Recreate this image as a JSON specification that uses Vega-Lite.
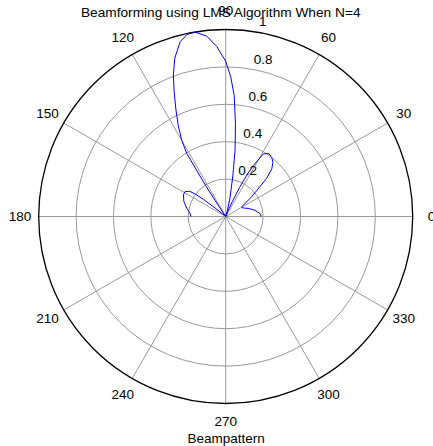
{
  "$schema": "https://vega.github.io/schema/vega-lite/v6.json",
  "width": 374,
  "height": 374,
  "autosize": {"type": "none"},
  "padding": {"left": 38.7, "top": 29.5, "right": 20.3, "bottom": 42.5},
  "background": "white",
  "title": {
    "text": "Beamforming using LMS Algorithm When N=4",
    "font": "Liberation Sans",
    "fontSize": 13.7,
    "fontWeight": "normal",
    "color": "black",
    "anchor": "middle",
    "frame": "group",
    "offset": -16,
    "dx": -5
  },
  "config": {"view": {"stroke": null}},
  "datasets": {
    "curve": [
      {"theta": 0, "r": 0.19}, {"theta": 5, "r": 0.184}, {"theta": 12, "r": 0.16},
      {"theta": 20, "r": 0.128}, {"theta": 24, "r": 0.11}, {"theta": 28, "r": 0.1},
      {"theta": 31, "r": 0.1}, {"theta": 34, "r": 0.125}, {"theta": 37, "r": 0.17},
      {"theta": 40, "r": 0.22}, {"theta": 43, "r": 0.3}, {"theta": 46, "r": 0.355},
      {"theta": 49, "r": 0.385}, {"theta": 52, "r": 0.4}, {"theta": 56, "r": 0.408},
      {"theta": 59, "r": 0.39}, {"theta": 61.5, "r": 0.31}, {"theta": 63, "r": 0.25},
      {"theta": 64.5, "r": 0.17}, {"theta": 66, "r": 0.09}, {"theta": 68, "r": 0.03},
      {"theta": 71, "r": 0.0}, {"theta": 74, "r": 0.03}, {"theta": 77, "r": 0.1},
      {"theta": 80, "r": 0.22}, {"theta": 82, "r": 0.36}, {"theta": 84, "r": 0.5},
      {"theta": 86, "r": 0.65}, {"theta": 88, "r": 0.75}, {"theta": 90, "r": 0.83},
      {"theta": 93, "r": 0.91}, {"theta": 96, "r": 0.97}, {"theta": 99.5, "r": 1.0},
      {"theta": 102, "r": 0.995}, {"theta": 104.6, "r": 0.966}, {"theta": 107.8, "r": 0.89},
      {"theta": 110.3, "r": 0.807}, {"theta": 112.5, "r": 0.72}, {"theta": 115, "r": 0.63},
      {"theta": 117.5, "r": 0.55}, {"theta": 120, "r": 0.47}, {"theta": 121.7, "r": 0.397},
      {"theta": 122.5, "r": 0.25}, {"theta": 123, "r": 0.19}, {"theta": 123.6, "r": 0.1},
      {"theta": 124.3, "r": 0.03}, {"theta": 128, "r": 0.0}, {"theta": 135, "r": 0.01},
      {"theta": 140, "r": 0.02}, {"theta": 141.5, "r": 0.08}, {"theta": 142.5, "r": 0.15},
      {"theta": 143.5, "r": 0.2}, {"theta": 145, "r": 0.235}, {"theta": 148.6, "r": 0.255},
      {"theta": 153, "r": 0.254}, {"theta": 160.5, "r": 0.237}, {"theta": 168, "r": 0.213},
      {"theta": 175, "r": 0.191}, {"theta": 180, "r": 0.186}
    ],
    "rings": [{"r": 0.2}, {"r": 0.4}, {"r": 0.6}, {"r": 0.8}],
    "outer": [{"r": 1.0}],
    "spokes": [{"a": 0}, {"a": 30}, {"a": 60}, {"a": 90}, {"a": 120}, {"a": 150}],
    "angleLabels": [
      {"a": 0, "label": "0"}, {"a": 30, "label": "30"}, {"a": 60, "label": "60"},
      {"a": 90, "label": "90"}, {"a": 120, "label": "120"}, {"a": 150, "label": "150"},
      {"a": 180, "label": "180"}, {"a": 210, "label": "210"}, {"a": 240, "label": "240"},
      {"a": 270, "label": "270"}, {"a": 300, "label": "300"}, {"a": 330, "label": "330"}
    ],
    "rhoLabels": [
      {"v": 0.2, "label": "0.2"}, {"v": 0.4, "label": "0.4"}, {"v": 0.6, "label": "0.6"},
      {"v": 0.8, "label": "0.8"}, {"v": 1, "label": "1"}
    ]
  },
  "layer": [
    {
      "data": {"name": "rings"},
      "mark": {"type": "point", "shape": "circle", "filled": false, "stroke": "#999999", "strokeWidth": 1, "opacity": 1},
      "encoding": {
        "x": {"datum": 0, "type": "quantitative", "scale": {"domain": [-1, 1], "nice": false, "zero": false},
              "axis": {"title": "Beampattern", "labels": false, "ticks": false, "domain": false, "grid": false,
                       "titleFont": "Liberation Sans", "titleFontSize": 13.5, "titleFontWeight": "normal",
                       "titleColor": "black", "titlePadding": 28}},
        "y": {"datum": 0, "type": "quantitative", "scale": {"domain": [-1, 1], "nice": false, "zero": false}, "axis": null},
        "size": {"field": "r", "type": "quantitative", "scale": {"type": "pow", "exponent": 2, "domain": [0, 1], "range": [0, 139876]}, "legend": null}
      }
    },
    {
      "data": {"name": "spokes"},
      "transform": [
        {"calculate": "cos(datum.a*PI/180)", "as": "x"},
        {"calculate": "sin(datum.a*PI/180)", "as": "y"},
        {"calculate": "-cos(datum.a*PI/180)", "as": "x2"},
        {"calculate": "-sin(datum.a*PI/180)", "as": "y2"}
      ],
      "mark": {"type": "rule", "stroke": "#999999", "strokeWidth": 1},
      "encoding": {
        "x": {"field": "x", "type": "quantitative"},
        "y": {"field": "y", "type": "quantitative"},
        "x2": {"field": "x2"},
        "y2": {"field": "y2"}
      }
    },
    {
      "data": {"name": "outer"},
      "mark": {"type": "point", "shape": "circle", "filled": false, "stroke": "black", "strokeWidth": 1.3, "opacity": 1},
      "encoding": {
        "x": {"datum": 0, "type": "quantitative"},
        "y": {"datum": 0, "type": "quantitative"},
        "size": {"field": "r", "type": "quantitative", "legend": null}
      }
    },
    {
      "data": {"name": "curve"},
      "transform": [
        {"calculate": "datum.r*cos(datum.theta*PI/180)", "as": "x"},
        {"calculate": "datum.r*sin(datum.theta*PI/180)", "as": "y"}
      ],
      "mark": {"type": "line", "stroke": "#0000ff", "strokeWidth": 1},
      "encoding": {
        "x": {"field": "x", "type": "quantitative"},
        "y": {"field": "y", "type": "quantitative"},
        "order": {"field": "theta", "type": "quantitative"}
      }
    },
    {
      "data": {"name": "angleLabels"},
      "transform": [
        {"calculate": "1.1*cos(datum.a*PI/180)", "as": "x"},
        {"calculate": "1.1*sin(datum.a*PI/180)", "as": "y"}
      ],
      "mark": {"type": "text", "font": "Liberation Sans", "fontSize": 13.5, "color": "black", "align": "center", "baseline": "middle"},
      "encoding": {
        "x": {"field": "x", "type": "quantitative"},
        "y": {"field": "y", "type": "quantitative"},
        "text": {"field": "label"}
      }
    },
    {
      "data": {"name": "rhoLabels"},
      "transform": [
        {"calculate": "(datum.v+0.01)*cos(82*PI/180)", "as": "x"},
        {"calculate": "(datum.v+0.01)*sin(82*PI/180)", "as": "y"}
      ],
      "mark": {"type": "text", "font": "Liberation Sans", "fontSize": 13.5, "color": "black", "align": "left", "baseline": "bottom", "dx": 7},
      "encoding": {
        "x": {"field": "x", "type": "quantitative"},
        "y": {"field": "y", "type": "quantitative"},
        "text": {"field": "label"}
      }
    }
  ]
}
